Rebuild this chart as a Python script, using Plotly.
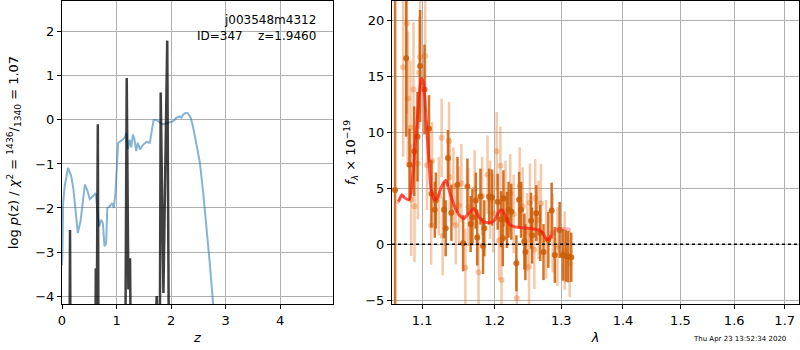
import plotly.graph_objects as go

# ---------------- left panel: p(z) ----------------
z_chi2 = [0.0, 0.01, 0.02, 0.05, 0.11, 0.17, 0.21, 0.29, 0.34, 0.42, 0.46, 0.51, 0.57, 0.62, 0.64,
          0.68, 0.72, 0.75, 0.78, 0.81, 0.83, 0.87, 0.92, 0.95, 0.98, 1.0, 1.03, 1.11, 1.15, 1.18,
          1.21, 1.24, 1.27, 1.30, 1.33, 1.36, 1.39, 1.43, 1.49, 1.55, 1.61, 1.64, 1.68, 1.73, 1.79,
          1.85, 1.91, 1.98, 2.04, 2.10, 2.16, 2.19, 2.22, 2.27, 2.31, 2.36, 2.40, 2.46, 2.53, 2.59,
          2.65, 2.71, 2.77, 2.82]
logp_chi2 = [-3.3, -2.9, -1.9, -1.5, -1.09, -1.28, -1.58, -2.57, -2.3, -1.47, -1.58, -1.8, -1.73, -1.66, -1.96,
             -2.42, -2.27, -2.35, -2.87, -2.8, -2.0, -1.97, -1.89, -2.0, -1.66, -1.2, -0.52, -0.45, -0.4, -0.3,
             -0.67, -0.45, -0.62, -0.33, -0.45, -0.71, -0.52, -0.67, -0.56, -0.5, -0.52, -0.3, 0.0, 0.0, -0.06,
             -0.1, -0.08, -0.06, -0.03, 0.05, 0.08, 0.05, 0.12, 0.16, 0.15, 0.05, -0.14, -0.52, -0.98, -1.66,
             -2.42, -3.25, -4.16, -4.6]

z_pz = [0.128, 0.147, 0.166, 0.600, 0.620, 0.636, 0.657, 0.676, 1.150, 1.187, 1.217, 1.248, 1.278,
        1.722, 1.737, 1.752, 1.786, 1.810, 1.860, 1.930, 1.972]
logp_pz = [-8.0, -2.5, -8.0, -8.0, -3.37, -5.0, -0.1, -8.0, -8.0, 0.95, -3.85, -3.14, -8.0,
           -4.5, -4.0, -4.5, -8.0, 0.62, -3.93, 1.8, -8.0]

# ---------------- right panel: spectrum ----------------
wave_a = [1.0649, 1.0792, 1.0835, 1.0896, 1.0939, 1.0974, 1.1032, 1.1092, 1.1124, 1.1169, 1.1183,
          1.1293, 1.1316, 1.1347, 1.1394, 1.1477, 1.1555, 1.1615, 1.1660, 1.1684, 1.1733, 1.1752,
          1.1798, 1.1835, 1.1853, 1.1922, 1.1963, 1.2045, 1.2094, 1.2119, 1.2128, 1.2179, 1.2203,
          1.2243, 1.2318, 1.2358, 1.2388, 1.2437, 1.2452, 1.2537, 1.2552, 1.2617, 1.2676, 1.2726,
          1.2800, 1.2851, 1.2900, 1.2975, 1.3026, 1.3070, 1.3108, 1.3157]
flux_a = [4.85, 16.6, 7.1, 8.3, 9.6, 15.9, 13.8, 10.3, 4.5, 3.07, 3.9,
          3.07, 1.43, 7.7, 2.8, 5.3, 0.09, 5.15, 1.8, 2.4, 3.9, 0.6,
          4.25, -0.15, 1.43, 4.25, 4.17, 3.8, 2.23, 0.54, 4.1, 2.17, 3.07,
          2.9, -1.7, 3.96, 3.07, 0.24, -0.7, 2.1, 0.77, 2.77, 1.0, -0.7,
          0.39, 3.0, -0.95, 1.28, -0.95, -1.04, -1.1, -1.16]
err_a = [35.0, 7.0, 3.2, 4.0, 4.0, 5.0, 4.0, 3.0, 3.0, 2.5, 2.5,
         2.5, 2.5, 2.5, 2.5, 2.5, 2.5, 2.5, 2.5, 2.5, 2.5, 2.5,
         2.5, 2.5, 2.5, 2.5, 2.5, 2.5, 2.5, 2.5, 2.5, 2.5, 2.5,
         2.5, 2.5, 2.5, 2.5, 2.5, 2.5, 2.5, 2.5, 2.5, 2.5, 2.5,
         2.5, 2.5, 2.5, 2.5, 2.3, 2.3, 2.3, 2.2]

wave_b = [1.0753, 1.0801, 1.0812, 1.0848, 1.0857, 1.0887, 1.0900, 1.0945, 1.0961, 1.0974, 1.1041,
          1.1065, 1.1120, 1.1133, 1.1224, 1.1261, 1.1275, 1.1361, 1.1370, 1.1421, 1.1453, 1.1499,
          1.1532, 1.1587, 1.1629, 1.1716, 1.1771, 1.1822, 1.1899, 1.1936, 1.1981, 1.2030, 1.2064,
          1.2084, 1.2100, 1.2158, 1.2228, 1.2278, 1.2325, 1.2367, 1.2412, 1.2478, 1.2507, 1.2520,
          1.2587, 1.2600, 1.2651, 1.2687, 1.2766, 1.2866, 1.2941, 1.3054, 1.3132]
flux_b = [15.8, 19.7, 13.0, 10.4, 3.96, 13.8, 3.4, 7.2, 15.3, 16.7, 16.8,
          7.05, 1.67, 7.4, 4.3, 9.5, 0.74, 9.2, 6.0, 5.15, 1.7, 3.45,
          5.45, -2.1, 3.3, 4.9, -2.5, 4.3, 6.2, 3.96, 2.77, 8.3, 0.33,
          7.0, -3.2, 3.96, 4.55, 2.7, -4.8, 5.15, 3.36, 1.07, -2.0, 3.7,
          -0.5, 4.1, 2.17, 3.66, 0.45, 1.0, -0.2, -0.57, -1.7]
err_b = [8.0, 8.0, 6.0, 6.0, 5.0, 6.0, 5.0, 5.0, 5.0, 5.0, 5.0,
         4.0, 3.5, 3.5, 3.5, 3.5, 3.5, 3.5, 3.5, 3.5, 3.5, 3.5,
         3.5, 3.5, 3.5, 3.5, 3.5, 3.5, 3.5, 3.5, 3.5, 3.5, 3.5,
         3.5, 3.5, 3.5, 3.5, 3.5, 3.5, 3.5, 3.5, 3.5, 3.5, 3.5,
         3.5, 3.5, 3.5, 3.5, 3.5, 3.5, 3.5, 3.5, 3.0]

wave_model = [1.0692, 1.0736, 1.0779, 1.0835, 1.0879, 1.0922, 1.0965, 1.0991, 1.1018, 1.1051,
              1.1087, 1.1120, 1.1165, 1.1211, 1.1261, 1.1316, 1.1361, 1.1430, 1.1499, 1.1568,
              1.1637, 1.1706, 1.1775, 1.1843, 1.1935, 1.2004, 1.2054, 1.2104, 1.2154, 1.2203,
              1.2278, 1.2378, 1.2527, 1.2651, 1.2717, 1.2766, 1.2811, 1.2841]
flux_model = [3.8, 4.4, 4.1, 4.0, 6.3, 9.9, 13.5, 14.8, 14.4, 11.4,
              7.8, 4.85, 3.96, 4.25, 5.15, 5.7, 4.85, 3.5, 2.6, 2.3,
              2.77, 3.2, 2.47, 2.0, 1.93, 2.17, 2.83, 3.07, 2.6, 1.87,
              1.58, 1.49, 1.4, 1.28, 1.0, 0.45, 0.45, 0.83]
wave_edge1 = [1.0680, 1.0736, 1.0765]
flux_edge1 = [3.6, 4.4, 4.2]
wave_edge2 = [1.2841, 1.2866, 1.2926, 1.3026, 1.3147]
flux_edge2 = [0.83, 1.0, 1.37, 1.4, 1.37]

x_ticks_right = [1.1, 1.2, 1.3, 1.4, 1.5, 1.6, 1.7]

DARK = "rgba(205,92,5,0.85)"
LIGHT = "rgba(230,120,40,0.40)"

fig = go.Figure()

fig.add_trace(go.Scatter(x=z_chi2, y=logp_chi2, mode="lines",
                         line=dict(color="rgba(31,119,180,0.55)", width=2),
                         xaxis="x", yaxis="y", showlegend=False))
fig.add_trace(go.Scatter(x=z_pz, y=logp_pz, mode="lines",
                         line=dict(color="rgba(0,0,0,0.75)", width=2.5),
                         xaxis="x", yaxis="y", showlegend=False))

fig.add_trace(go.Scatter(x=wave_b, y=flux_b, mode="markers",
                         marker=dict(color=LIGHT, size=6),
                         error_y=dict(type="data", array=err_b, color=LIGHT, thickness=2.5, width=0),
                         xaxis="x2", yaxis="y2", showlegend=False))
fig.add_trace(go.Scatter(x=wave_a, y=flux_a, mode="markers",
                         marker=dict(color=DARK, size=6),
                         error_y=dict(type="data", array=err_a, color=DARK, thickness=2.5, width=0),
                         xaxis="x2", yaxis="y2", showlegend=False))
fig.add_trace(go.Scatter(x=wave_edge1, y=flux_edge1, mode="lines",
                         line=dict(color="rgba(255,60,80,0.35)", width=3),
                         xaxis="x2", yaxis="y2", showlegend=False))
fig.add_trace(go.Scatter(x=wave_edge2, y=flux_edge2, mode="lines",
                         line=dict(color="rgba(255,60,80,0.35)", width=3),
                         xaxis="x2", yaxis="y2", showlegend=False))
fig.add_trace(go.Scatter(x=wave_model, y=flux_model, mode="lines", line_shape="spline",
                         line=dict(color="rgba(255,20,10,0.7)", width=3, smoothing=0.6),
                         xaxis="x2", yaxis="y2", showlegend=False))

fig.add_shape(type="line", xref="x2 domain", yref="y2", x0=0, x1=1, y0=0, y1=0,
              line=dict(color="black", width=1.5, dash="dot"))

axis_common = dict(showline=True, linecolor="black", linewidth=1, mirror=True,
                   showgrid=True, gridcolor="#b0b0b0", gridwidth=1,
                   ticks="outside", ticklen=4, tickcolor="black", automargin=False,
                   zeroline=False, tickfont=dict(family="DejaVu Sans", size=13, color="black"))

# plot area: x 62..799, y 1..304
ML, MR, MT, MB = 62, 1, 1, 46
PW = 800 - ML - MR
PH = 350 - MT - MB

fig.update_layout(
    width=800, height=350,
    margin=dict(l=ML, r=MR, t=MT, b=MB, autoexpand=False),
    paper_bgcolor="white", plot_bgcolor="white",
    font=dict(family="DejaVu Sans", color="black"),
    xaxis=dict(domain=[0, (333 - ML) / PW], range=[0, 4.97], dtick=1, anchor="y",
               title=dict(text="<i>z</i>", standoff=6, font=dict(size=13)), **axis_common),
    yaxis=dict(domain=[0, 1], range=[-4.18, 2.70], dtick=1, anchor="x",
               title=dict(text="log <i>p</i>(z) / <i>χ</i><sup>2</sup> = <sup>1436</sup>/<sub>1340</sub> = 1.07",
                          standoff=13, font=dict(size=13)), **axis_common),
    xaxis2=dict(domain=[(392 - ML) / PW, 1], type="log", range=[0.0257, 0.2379], anchor="y2",
                tickvals=x_ticks_right, ticktext=[str(v) for v in x_ticks_right],
                title=dict(text="<i>λ</i>", standoff=6, font=dict(size=13)), **axis_common),
    yaxis2=dict(domain=[0, 1], range=[-5.33, 21.7], dtick=5, anchor="x2",
                title=dict(text="<i>f</i><sub><i>λ</i></sub> × 10<sup>−19</sup>", standoff=6, font=dict(size=13)),
                **axis_common),
)

fig.add_annotation(xref="x domain", yref="y domain", x=0.945, y=0.968, xanchor="right", yanchor="top",
                   text="j003548m4312<br>ID=347    z=1.9460", showarrow=False, align="right",
                   font=dict(family="DejaVu Sans", size=12, color="black"))
fig.add_annotation(xref="paper", yref="paper", x=(788 - ML) / PW, y=(304 - 339) / PH,
                   xanchor="right", yanchor="middle",
                   text="Thu Apr 23 13:52:34 2020", showarrow=False,
                   font=dict(family="DejaVu Sans", size=7, color="black"))

fig.write_html("out.html", config={"displayModeBar": False},
               post_script="document.body.style.margin='0';document.body.style.overflow='hidden';")
